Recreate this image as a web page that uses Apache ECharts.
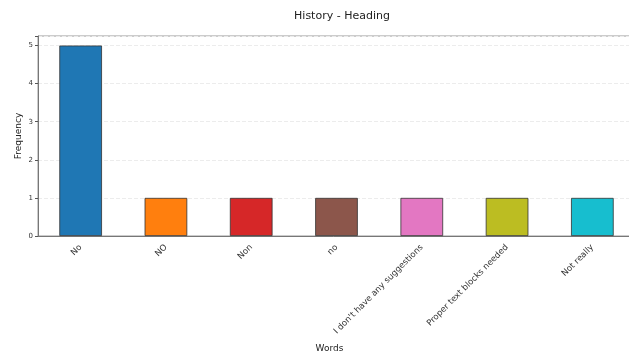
<!DOCTYPE html>
<html><head><meta charset="utf-8">
<script src="https://cdn.jsdelivr.net/npm/echarts@6/dist/echarts.min.js"></script>
<style>html,body{margin:0;padding:0;background:#fff;overflow:hidden}#c{width:629px;height:360px}</style>
</head><body><div id="c"></div>
<script>
var categories = ["No", "NO", "Non", "no", "I don't have any suggestions", "Proper text blocks needed", "Not really"];
var frequencies = [5, 1, 1, 1, 1, 1, 1];
var barColors = ["#1f77b4", "#ff7f0e", "#d62728", "#8c564b", "#e377c2", "#bcbd22", "#17becf"];
var yTicks = [0, 1, 2, 3, 4, 5];

var chart = echarts.init(document.getElementById('c'));
chart.setOption({
  animation: false,
  backgroundColor: '#fff',
  title: {
    text: 'History - Heading', left: 337, top: 6, textAlign: 'center',
    textStyle: {fontFamily: 'DejaVu Sans', fontSize: 11, fontWeight: 'normal', color: '#222'}
  },
  grid: {left: 38, width: 597, top: 36, height: 200, show: true, borderColor: '#999', borderWidth: 1,
    outerBoundsMode: 'none', containLabel: false},
  xAxis: {
    type: 'category', data: categories,
    name: 'Words', nameLocation: 'middle', nameGap: 108,
    nameTextStyle: {fontFamily: 'DejaVu Sans', fontSize: 9, color: '#222', padding: [0, 14, 0, 0]},
    axisLine: {lineStyle: {color: '#777'}},
    axisTick: {alignWithLabel: true, length: 3, lineStyle: {color: '#555'}},
    axisLabel: {rotate: 45, fontFamily: 'DejaVu Sans', fontSize: 8.5, color: '#333', margin: 10, interval: 0}
  },
  yAxis: {
    type: 'value', min: 0, max: 5.25, interval: 1,
    name: 'Frequency', nameLocation: 'middle', nameGap: 15, nameMoveOverlap: false,
    nameTextStyle: {fontFamily: 'DejaVu Sans', fontSize: 9, color: '#222'},
    axisLine: {show: true, lineStyle: {color: '#777'}},
    axisTick: {show: true, length: 3, lineStyle: {color: '#555'}},
    axisLabel: {fontFamily: 'DejaVu Sans', fontSize: 7, color: '#333', margin: 5,
      formatter: function (v) { return yTicks.indexOf(v) >= 0 ? String(v) : ''; }},
    splitLine: {show: true, lineStyle: {color: '#ececec', type: 'dashed'}}
  },
  series: [{
    type: 'bar', barWidth: '50%',
    data: frequencies.map(function (v, i) {
      return {value: v, itemStyle: {color: barColors[i], borderColor: '#333', borderWidth: 0.8}};
    })
  }]
});
</script></body></html>
